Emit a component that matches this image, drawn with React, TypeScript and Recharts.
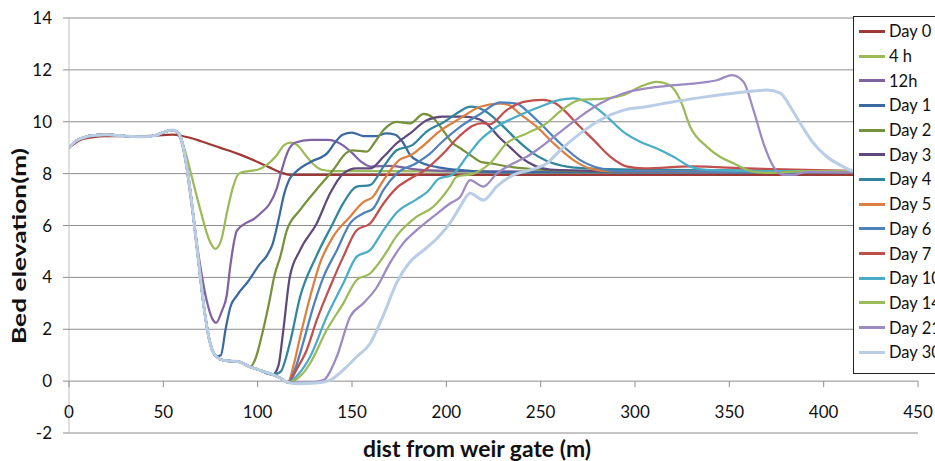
import React from "react";
import {
    LineChart,
    Line,
    XAxis,
    YAxis,
    CartesianGrid,
    Legend,
} from "recharts";

type Pt = [number, number];

// common upstream profile and the scour hole every early series shares
const lead: Pt[] = [[0, 9.0], [4, 9.28], [8, 9.4], [14, 9.48], [20, 9.5], [30, 9.45], [40, 9.42], [46, 9.48], [51, 9.62], [55, 9.68]];
const crater: Pt[] = [[57.5, 9.6], [60, 9.2], [63, 8.0], [66, 6.3], [69, 4.4], [72, 2.6], [75, 1.4], [78, 0.95], [82, 0.8], [90, 0.75], [96, 0.55], [100, 0.45], [108, 0.25], [112, 0.12], [116, -0.05]];

const day0: Pt[] = [[0, 9.0], [6, 9.3], [12, 9.4], [20, 9.45], [40, 9.45], [55, 9.5], [60, 9.45], [70, 9.25], [80, 9.0], [90, 8.75], [100, 8.45], [106, 8.25], [112, 8.05], [118, 7.95], [420, 7.95]];
const tail4h: Pt[] = [[58.5, 9.5], [61, 9.0], [65, 7.9], [70, 6.5], [74, 5.5], [77.5, 5.1], [80.5, 5.4], [84, 6.6], [87, 7.5], [90, 8.0], [95, 8.1], [100, 8.15], [105, 8.35], [110, 8.7], [114, 9.1], [117.5, 9.2], [121, 9.1], [125, 8.75], [129, 8.4], [134, 8.15], [140, 8.1], [170, 8.1], [250, 8.05], [420, 8.05]];
const tail12h: Pt[] = [[58.5, 9.45], [61, 8.8], [65, 6.8], [69, 4.7], [73, 3.1], [76, 2.4], [78, 2.25], [81, 2.7], [83.6, 3.3], [85.6, 4.5], [89, 5.8], [94, 6.1], [98, 6.25], [102, 6.5], [106, 6.8], [110, 7.4], [113, 8.2], [116, 8.85], [120, 9.2], [128, 9.3], [137, 9.3], [145, 9.1], [150, 8.8], [155, 8.45], [160, 8.27], [170, 8.3], [185, 8.15], [200, 8.1], [300, 8.05], [420, 8.05]];
const tailD1: Pt[] = [[80.5, 1.0], [83, 2.0], [85.5, 2.85], [89, 3.3], [95, 3.85], [101, 4.5], [105, 4.85], [108, 5.3], [111, 6.2], [114, 7.2], [117, 7.8], [120, 8.05], [128, 8.45], [137, 8.8], [141, 9.2], [145, 9.5], [150, 9.58], [156, 9.45], [163, 9.45], [168, 9.55], [173, 9.5], [177, 9.2], [181, 8.7], [186, 8.45], [195, 8.25], [205, 8.15], [230, 8.05], [420, 8.05]];
const tailD2: Pt[] = [[99, 0.9], [102, 1.7], [106, 3.0], [109, 4.1], [112, 4.8], [115.4, 5.8], [122.5, 6.6], [131, 7.37], [140, 8.14], [147, 8.8], [150, 8.9], [157.8, 8.85], [162, 9.2], [166.7, 9.68], [173.7, 10.0], [180.8, 9.94], [188, 10.3], [193, 10.15], [197, 9.8], [203, 9.2], [208, 8.95], [213, 8.7], [218, 8.46], [223, 8.4], [235, 8.25], [250, 8.15], [270, 8.1], [420, 8.05]];
const tailD3: Pt[] = [[111, 0.6], [113.6, 1.97], [117, 4.0], [122.5, 5.05], [131.3, 6.08], [138.4, 7.24], [145.4, 8.0], [152.5, 8.2], [159.6, 8.2], [166.7, 8.65], [173.7, 9.17], [180.8, 9.55], [189.6, 10.06], [198, 10.2], [208, 10.2], [215, 10.15], [221, 9.95], [228, 9.4], [234, 9.0], [240, 8.6], [247, 8.3], [255, 8.15], [280, 8.1], [420, 8.05]];
const tailD4: Pt[] = [[112, 0.35], [117, 1.45], [122.5, 3.25], [131, 4.8], [140, 6.1], [145.3, 6.85], [152.5, 7.5], [159.6, 7.56], [166.7, 8.27], [173.7, 8.9], [182, 9.1], [190, 9.65], [199, 10.0], [206, 10.35], [213, 10.58], [219.6, 10.45], [228.5, 9.94], [237.4, 9.3], [246, 8.78], [253, 8.5], [264, 8.27], [275, 8.2], [300, 8.15], [420, 8.1]];
const tailD5: Pt[] = [[119, 0.6], [122.5, 1.7], [127.8, 3.25], [133, 4.54], [140, 5.57], [149, 6.34], [156, 6.9], [161, 7.1], [166.7, 7.75], [175.5, 8.55], [180.8, 8.7], [186, 8.97], [196.7, 9.65], [207.3, 10.13], [218, 10.58], [228.5, 10.7], [233, 10.65], [239, 10.3], [248, 9.8], [256.8, 9.17], [267.4, 8.52], [276, 8.2], [285, 8.1], [420, 8.05]];
const tailD6: Pt[] = [[120, 0.5], [124, 1.45], [129.5, 2.87], [134.8, 4.0], [142, 5.05], [149, 6.08], [156, 6.47], [161.3, 6.66], [166.7, 7.37], [173.7, 8.0], [184, 8.4], [191, 8.75], [197, 9.17], [207.3, 9.8], [218, 10.3], [228.5, 10.75], [237.3, 10.7], [243, 10.4], [249.7, 9.94], [260.3, 9.17], [271, 8.52], [281.5, 8.2], [290, 8.1], [420, 8.05]];
const tailD7: Pt[] = [[121, 0.5], [126, 1.2], [131.3, 2.35], [138.4, 3.64], [145.4, 4.8], [152.5, 5.82], [159.6, 6.08], [166.7, 6.85], [173.7, 7.45], [180.8, 7.8], [188, 8.1], [198, 8.75], [207, 9.45], [214, 9.85], [219, 9.95], [223, 9.9], [232, 10.45], [241, 10.77], [251, 10.84], [258, 10.7], [263, 10.4], [269, 9.94], [278, 9.3], [287, 8.65], [296, 8.27], [305, 8.2], [330, 8.28], [360, 8.2], [420, 8.1]];
const tailD10: Pt[] = [[122, 0.3], [127.8, 0.94], [136.6, 2.48], [145.4, 3.77], [152.5, 4.8], [159.6, 5.05], [166.7, 5.82], [173.7, 6.5], [184, 7.0], [190, 7.3], [196, 7.8], [203, 7.95], [210.8, 8.65], [218, 9.3], [226.7, 9.8], [239, 10.26], [249.7, 10.58], [260, 10.84], [267.4, 10.9], [276, 10.7], [285, 10.2], [294, 9.6], [302.7, 9.23], [311.6, 8.97], [320.4, 8.65], [329.3, 8.27], [338, 8.14], [360, 8.1], [420, 8.1]];
const tailD14: Pt[] = [[124, 0.3], [127.8, 0.69], [136.6, 1.97], [145.4, 3.0], [152.5, 3.9], [159.6, 4.15], [166.7, 4.8], [173.7, 5.6], [184.3, 6.34], [193, 6.72], [202, 7.5], [205.5, 7.88], [214.4, 8.0], [223.2, 8.4], [232, 9.17], [242.6, 9.55], [253, 9.94], [260.3, 10.4], [271, 10.84], [285, 10.9], [294, 11.03], [302.7, 11.35], [311.6, 11.54], [318.6, 11.4], [324, 10.84], [329.3, 9.8], [338, 9.04], [345, 8.65], [352.2, 8.4], [363, 8.07], [372, 8.03], [390, 8.1], [420, 8.1]];
const tailD21: Pt[] = [[120, -0.06], [127, -0.06], [134.8, 0.04], [141.9, 0.94], [149, 2.48], [156, 3.0], [163, 3.6], [170, 4.54], [177, 5.3], [184.3, 5.82], [193, 6.34], [202, 6.85], [207.3, 7.1], [212.6, 7.75], [219.6, 7.5], [226.7, 8.0], [235.6, 8.4], [242.6, 8.65], [249.7, 9.0], [260.3, 9.6], [271, 10.2], [281.5, 10.7], [294, 11.1], [306, 11.29], [320.4, 11.41], [334.6, 11.5], [343.4, 11.6], [351.4, 11.8], [357.5, 11.54], [362.8, 10.45], [368.1, 9.17], [373.4, 8.27], [378.7, 7.95], [384, 7.95], [391, 8.07], [420, 8.05]];
const tailD30: Pt[] = [[120, -0.1], [131, -0.07], [138.4, 0.04], [145.4, 0.43], [152.5, 0.94], [159.6, 1.45], [166.7, 2.55], [173.7, 3.8], [180.8, 4.6], [188, 5.05], [195, 5.5], [202, 6.1], [207.3, 6.72], [212.6, 7.24], [219.6, 6.98], [226.7, 7.5], [235.6, 7.95], [244.4, 8.14], [253.3, 8.4], [260.3, 8.9], [271, 9.55], [281.5, 10.07], [294, 10.45], [306, 10.58], [320.4, 10.77], [334.6, 10.93], [352.2, 11.1], [370, 11.22], [377, 11.1], [382.3, 10.58], [387.6, 9.94], [394.6, 9.17], [401.7, 8.65], [408.8, 8.33], [414, 8.14], [420, 8.05]];

const xTicks = [0, 50, 100, 150, 200, 250, 300, 350, 400, 450];
const yTicks = [-2, 0, 2, 4, 6, 8, 10, 12, 14];

const upTo = (pts: Pt[], x: number) => pts.filter((p) => p[0] <= x);
const toRows = (pts: Pt[]) => pts.map(([x, y]) => ({ x, y }));

const series = [
    { name: "Day 0", color: "#9D3A37", pts: day0 },
    { name: "4 h", color: "#9BBB59", pts: [...lead, ...tail4h] },
    { name: "12h", color: "#8064A2", pts: [...lead, ...tail12h] },
    { name: "Day 1", color: "#3B6AA0", pts: [...lead, ...upTo(crater, 78), ...tailD1] },
    { name: "Day 2", color: "#76923C", pts: [...lead, ...upTo(crater, 96), ...tailD2] },
    { name: "Day 3", color: "#5F497A", pts: [...lead, ...upTo(crater, 108), ...tailD3] },
    { name: "Day 4", color: "#31859C", pts: [...lead, ...upTo(crater, 108), ...tailD4] },
    { name: "Day 5", color: "#DB8040", pts: [...lead, ...crater, ...tailD5] },
    { name: "Day 6", color: "#4F81BD", pts: [...lead, ...crater, ...tailD6] },
    { name: "Day 7", color: "#C0504D", pts: [...lead, ...crater, ...tailD7] },
    { name: "Day 10", color: "#4BACC6", pts: [...lead, ...crater, ...tailD10] },
    { name: "Day 14", color: "#9BBB59", pts: [...lead, ...crater, ...tailD14] },
    { name: "Day 21", color: "#9C8AC0", pts: [...lead, ...crater, ...tailD21] },
    { name: "Day 30", color: "#B9CDE5", pts: [...lead, ...crater, ...tailD30] },
];

const W = 935;
const H = 461;
const PLOT_TOP = 18;
const PLOT_H = 415;
const ZERO_Y = PLOT_TOP + (PLOT_H * 14) / 16;
const FONT = "Lato, 'Open Sans', sans-serif";

function XTick(props: any) {
    const { x, payload } = props;
    return (
        <g>
            <line x1={x} x2={x} y1={ZERO_Y} y2={ZERO_Y + 6} stroke="#8C8C8C" />
            <text x={x} y={ZERO_Y + 37} textAnchor="middle" fontSize={17} fill="#111" fontFamily={FONT}>
                {payload.value}
            </text>
        </g>
    );
}

// legend keeps the series order of the workbook rather than the sorted payload
function LegendBox() {
    return (
        <div
            style={{
                border: "1.5px solid #222",
                background: "#fff",
                padding: "2px 0 8px 0",
                fontFamily: FONT,
                fontSize: 16.5,
                color: "#111",
                whiteSpace: "nowrap",
            }}
        >
            {series.map((s) => (
                <div key={s.name} style={{ height: 24.7, display: "flex", alignItems: "center" }}>
                    <span style={{ display: "inline-block", width: 26, height: 3, background: s.color, marginLeft: 5, marginRight: 4 }} />
                    <span>{s.name}</span>
                </div>
            ))}
        </div>
    );
}

export default function App() {
    return (
        <div style={{ position: "absolute", left: 0, top: 0, width: W, height: H, background: "#fff", overflow: "hidden" }}>
            <LineChart width={W} height={H} margin={{ top: PLOT_TOP, right: 17, bottom: 0, left: 0 }}>
                <CartesianGrid horizontal vertical={false} stroke="#8C8C8C" />
                <XAxis
                    dataKey="x"
                    type="number"
                    domain={[0, 450]}
                    ticks={xTicks}
                    height={28}
                    axisLine={false}
                    tickLine={false}
                    tick={<XTick />}
                    interval={0}
                    allowDataOverflow
                    label={{
                        content: () => (
                            <text x={477} y={457} textAnchor="middle" fontSize={22} fontWeight="bold" fill="#111" fontFamily={FONT} textLength={228} lengthAdjust="spacingAndGlyphs">
                                dist from weir gate (m)
                            </text>
                        ),
                    }}
                />
                <YAxis
                    type="number"
                    domain={[-2, 14]}
                    ticks={yTicks}
                    width={69}
                    interval={0}
                    axisLine={{ stroke: "#BFBFBF" }}
                    tickLine={{ stroke: "#8C8C8C" }}
                    tickSize={6}
                    tickMargin={11}
                    tick={{ fontSize: 17, fill: "#111", fontFamily: FONT }}
                    label={{
                        content: () => (
                            <text x={26} y={246} transform="rotate(-90 26 246)" textAnchor="middle" fontSize={18} fontWeight="bold" fill="#111" fontFamily={FONT} textLength={196} lengthAdjust="spacingAndGlyphs">
                                Bed elevation(m)
                            </text>
                        ),
                    }}
                />
                {series.map((s) => (
                    <Line
                        key={s.name}
                        data={toRows(s.pts)}
                        dataKey="y"
                        name={s.name}
                        type="monotone"
                        stroke={s.color}
                        strokeWidth={s.name === "Day 30" ? 3 : 2.25}
                        dot={false}
                        activeDot={false}
                        isAnimationActive={false}
                    />
                ))}
                <Legend
                    layout="vertical"
                    align="center"
                    verticalAlign="middle"
                    content={<LegendBox />}
                    wrapperStyle={{ position: "absolute", left: 853, top: 16, width: 110, height: "auto" }}
                />
            </LineChart>
        </div>
    );
}
